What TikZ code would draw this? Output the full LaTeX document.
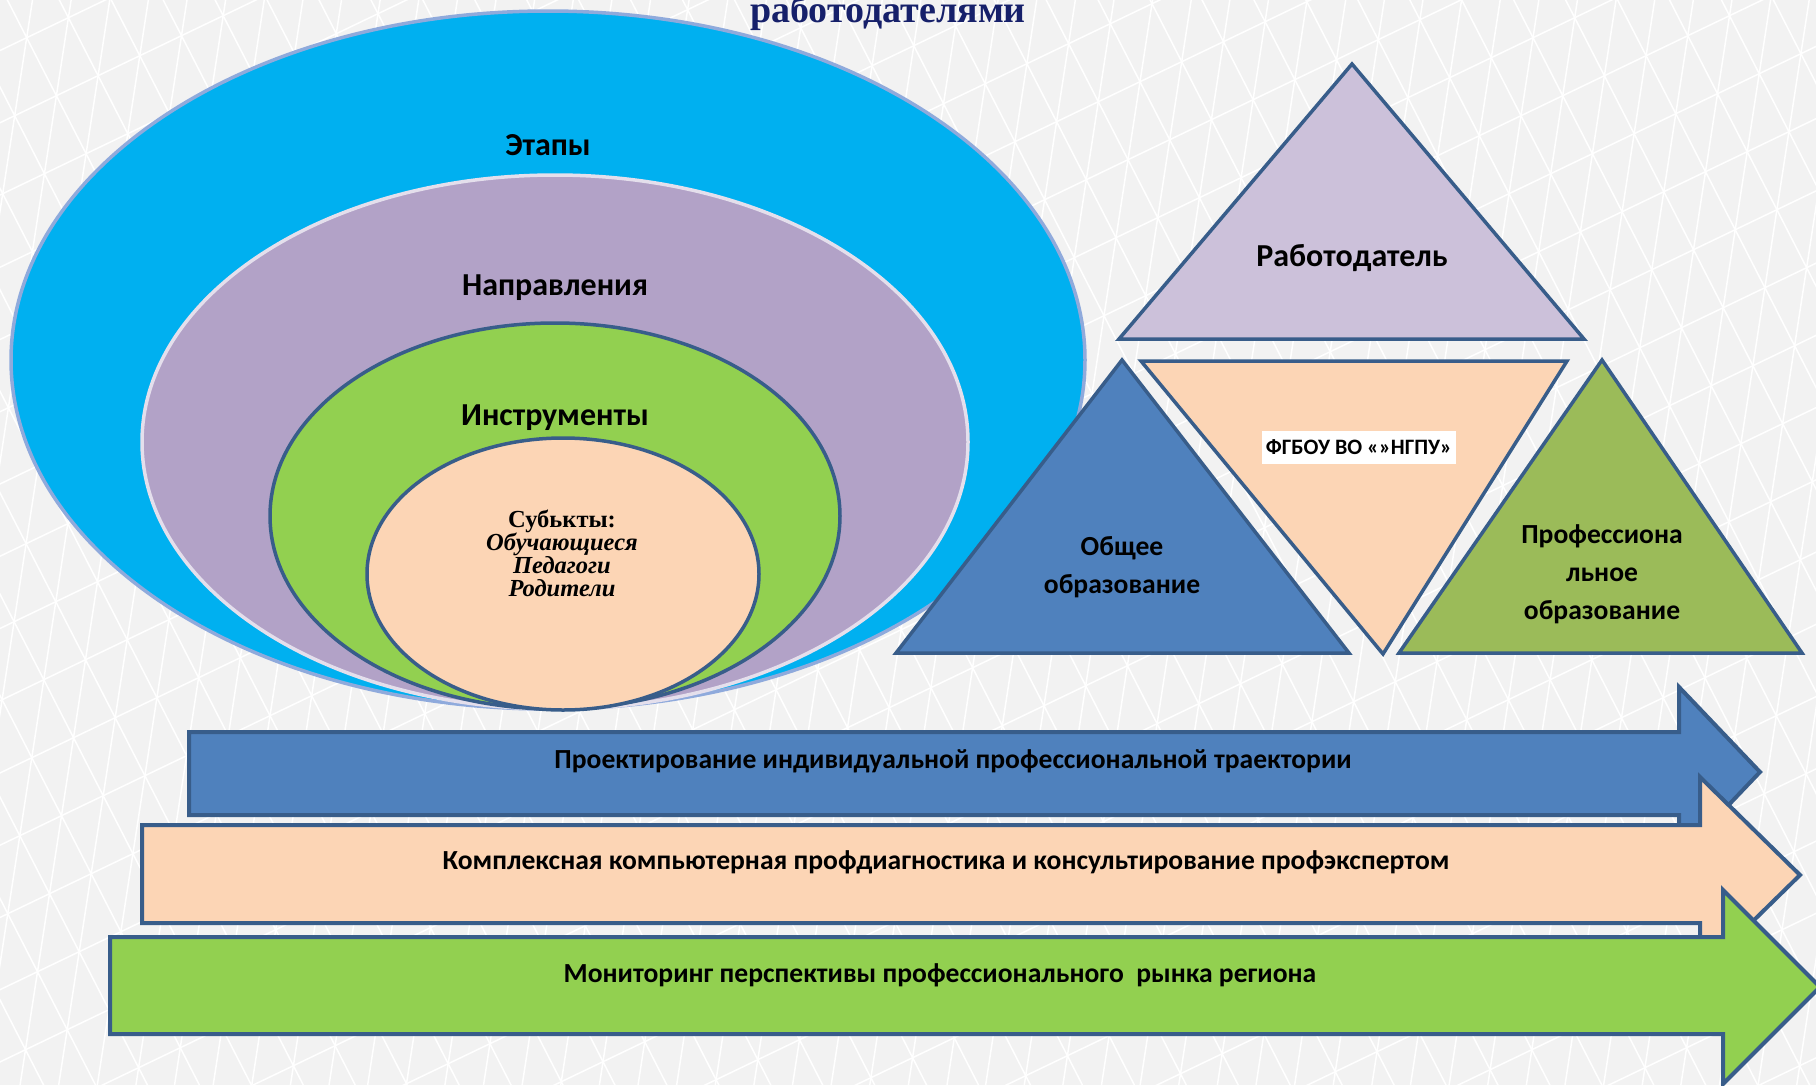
\documentclass[tikz,border=0pt]{standalone}
\usepackage{fontspec}
\setmainfont{Carlito}
\newfontfamily\serifT{Liberation Serif}
\definecolor{bgc}{HTML}{F2F2F2}
\definecolor{skyB}{HTML}{00B0F0}
\definecolor{skyE}{HTML}{8FAADC}
\definecolor{lilac}{HTML}{B2A2C7}
\definecolor{lilacE}{HTML}{E4DFEC}
\definecolor{grn}{HTML}{92D050}
\definecolor{peach}{HTML}{FCD5B5}
\definecolor{edgeB}{HTML}{385D8A}
\definecolor{lilacT}{HTML}{CCC1DA}
\definecolor{blueT}{HTML}{4F81BD}
\definecolor{oliveT}{HTML}{9BBB59}
\definecolor{navy}{HTML}{16206A}
\begin{document}
\begin{tikzpicture}[x=1pt,y=-1pt,
  shp/.style={draw=edgeB,line width=3.5pt},
  arr/.style={draw=edgeB,line width=4pt},
  bgline/.style={draw=white,line width=1.5pt},
  lbl/.style={font=\bfseries\fontsize{32}{38}\selectfont,inner sep=0pt},
  tlbl/.style={font=\bfseries\fontsize{27.6}{38}\selectfont,align=center,inner sep=0pt},
  albl/.style={font=\bfseries\fontsize{27.6}{32}\selectfont,inner sep=0pt}]
\clip (0,0) rectangle (1816,1085);
\useasboundingbox (0,0) rectangle (1816,1085);
\fill[bgc] (0,0) rectangle (1816,1085);
% background lattice
\foreach \k in {-20,...,30}
  \draw[bgline] ({1181.7-12*\k-50*41.7},{61.7+78*\k+50*20}) -- ({1181.7-12*\k+50*41.7},{61.7+78*\k-50*20});
\foreach \k in {-40,...,25}
  \draw[bgline] ({1181.7+41.7*\k+20*12},{61.7-20*\k-20*78}) -- ({1181.7+41.7*\k-20*12},{61.7-20*\k+20*78});
\foreach \k in {-60,...,40}
  \draw[bgline] ({1181.7+41.7*\k-25*29.7},{61.7-20*\k-25*58}) -- ({1181.7+41.7*\k+25*29.7},{61.7-20*\k+25*58});
% title
\node[font=\serifT\bfseries\fontsize{38}{44}\selectfont,text=navy,anchor=base,inner sep=0pt] (title) at (888,22) {работодателями};
% nested ellipses
\filldraw[fill=skyB,draw=skyE,line width=3.5pt] (548,360) ellipse [x radius=537pt,y radius=349pt];
\filldraw[fill=lilac,draw=lilacE,line width=3.5pt] (555,442) ellipse [x radius=413pt,y radius=267pt];
\filldraw[fill=grn,shp] (555,516) ellipse [x radius=285pt,y radius=193pt];
\filldraw[fill=peach,shp] (563,574) ellipse [x radius=196pt,y radius=136pt];
\node[lbl] (etapy) at (548,145) {Этапы};
\node[lbl] (napr) at (555,288) {Направления};
\node[lbl] (instr) at (555,418) {Инструменты};
\node[font=\serifT\bfseries\fontsize{24.5}{23}\selectfont,align=center,inner sep=0pt] (subj) at (562,553)
  {Субькты:\\ \itshape Обучающиеся\\ \itshape Педагоги\\ \itshape Родители};
% triangles
\filldraw[fill=lilacT,shp] (1352,64) -- (1584,339) -- (1119,339) -- cycle;
\filldraw[fill=peach,shp] (1141,361) -- (1567,361) -- (1383,654) -- cycle;
\filldraw[fill=blueT,shp] (1122,360) -- (1349,653) -- (896,653) -- cycle;
\filldraw[fill=oliveT,shp] (1602,360) -- (1802,653) -- (1399,653) -- cycle;
\node[lbl] (rab) at (1352,258) {Работодатель};
\node[fill=white,font=\bfseries\fontsize{22}{26}\selectfont,minimum width=194pt,minimum height=33pt,inner sep=0pt] (ngpu) at (1359,447) {ФГБОУ ВО «»НГПУ»};
\node[tlbl] (obsh) at (1122,567) {Общее\\образование};
\node[tlbl] (prof) at (1602,574) {Профессиона\\льное\\образование};
% arrows
\filldraw[fill=blueT,arr] (189,732) -- (1679,732) -- (1679,687) -- (1760,772) -- (1679,857) -- (1679,815) -- (189,815) -- cycle;
\filldraw[fill=peach,arr] (142,825) -- (1700,825) -- (1700,777) -- (1800,875) -- (1700,973) -- (1700,923) -- (142,923) -- cycle;
\filldraw[fill=grn,arr] (110,937) -- (1723,937) -- (1723,890) -- (1820,987) -- (1723,1084) -- (1723,1034) -- (110,1034) -- cycle;
\node[albl] (a1) at (953,761) {Проектирование индивидуальной профессиональной траектории};
\node[albl] (a2) at (946,862) {Комплексная компьютерная профдиагностика и консультирование профэкспертом};
\node[albl] (a3) at (940,975) {Мониторинг перспективы профессионального\ \ рынка региона};
\end{tikzpicture}
\end{document}
